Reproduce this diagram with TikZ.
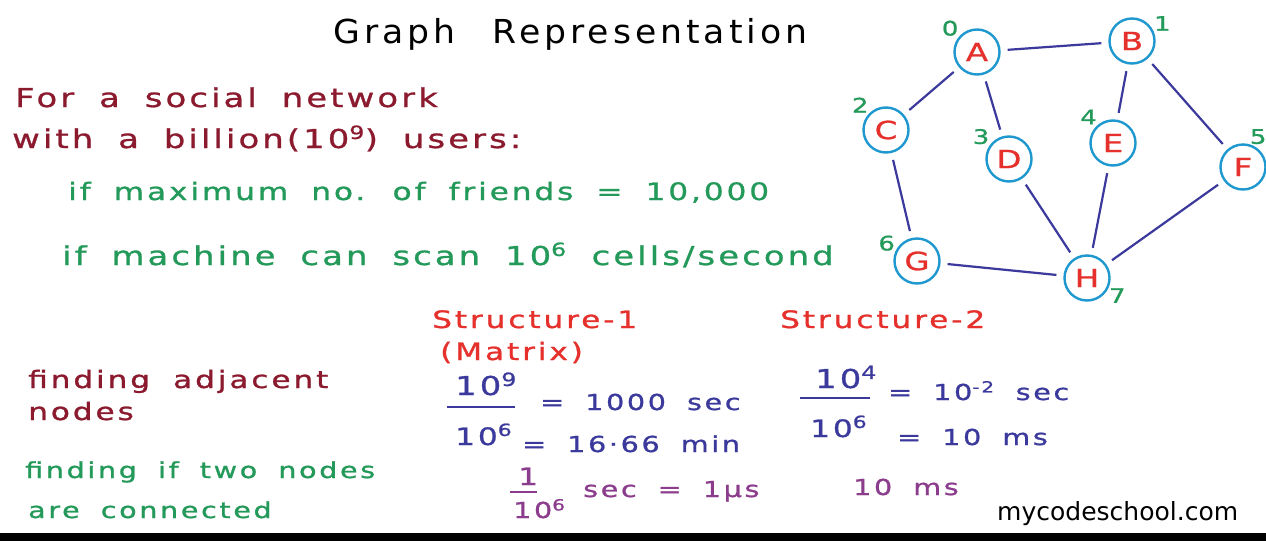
\documentclass[tikz,border=0pt]{standalone}
\usepackage{fontspec}
\setmainfont{Liberation Sans}
\newfontfamily\hand[FakeStretch=1.3, FakeBold=1, LetterSpace=12, WordSpace=1.8]{DejaVu Sans}
\newfontfamily\titlehand[FakeStretch=1.05, LetterSpace=12, WordSpace=2.5]{DejaVu Sans}
\newfontfamily\logofont{DejaVu Sans}
\definecolor{wine}{HTML}{8B1A2E}
\definecolor{leaf}{HTML}{23995A}
\definecolor{redink}{HTML}{E5302C}
\definecolor{blueink}{HTML}{3B3A9C}
\definecolor{ring}{HTML}{1E98CF}
\definecolor{plum}{HTML}{8C3C8C}
\tikzstyle{txt} = [anchor=base west, inner sep=0pt, font=\hand\fontsize{26}{26}\selectfont]
\tikzstyle{txtmid} = [anchor=base west, inner sep=0pt, font=\hand\fontsize{24}{24}\selectfont]
\tikzstyle{txtsmall} = [anchor=base west, inner sep=0pt, font=\hand\fontsize{22}{22}\selectfont]
\tikzstyle{vertex} = [circle, draw=ring, line width=2.4pt, minimum size=45pt, inner sep=0pt, text=redink, font=\hand\fontsize{25}{25}\selectfont]
\tikzstyle{idx} = [text=leaf, font=\hand\fontsize{20}{20}\selectfont, label distance=-4pt]
\tikzstyle{link} = [draw=blueink, line width=2.2pt, shorten >=7pt, shorten <=7pt]
\tikzstyle{bar} = [line width=2pt]

\begin{document}
\begin{tikzpicture}[x=1pt, y=-1pt]
	\fill[white] (0,0) rectangle (1266,541);
	\useasboundingbox (0,0) rectangle (1266,541);
	% title
	\node[txt, font=\titlehand\fontsize{33}{33}\selectfont] (title) at (333,43) {Graph Representation};
	% the problem
	\node[txt, text=wine] (social) at (15,107) {For a social network};
	\node[txt, text=wine] (users) at (12,148) {with a billion(10\textsuperscript{9}) users:};
	\node[txtmid, text=leaf] (friends) at (68,200) {if maximum no. of friends = 10,000};
	\node[txt, text=leaf] (scan) at (62,265) {if machine can scan 10\textsuperscript{6} cells/second};
	% the graph
	\node[vertex, label={[idx]140:0}] (A) at (977,52) {A};
	\node[vertex, label={[idx]20:1}] (B) at (1132,41) {B};
	\node[vertex, label={[idx]135:2}] (C) at (886,130) {C};
	\node[vertex, label={[idx]145:3}] (D) at (1009,159) {D};
	\node[vertex, label={[idx]130:4}] (E) at (1113,143) {E};
	\node[vertex, label={[idx]80:5}] (F) at (1243,167) {F};
	\node[vertex, label={[idx]160:6}] (G) at (917,261) {G};
	\node[vertex, label={[idx]-20:7}] (H) at (1087,278) {H};
	\draw[link] (A) -- (B);
	\draw[link] (A) -- (C);
	\draw[link] (A) -- (D);
	\draw[link] (B) -- (E);
	\draw[link] (B) -- (F);
	\draw[link] (C) -- (G);
	\draw[link] (D) -- (H);
	\draw[link] (E) -- (H);
	\draw[link] (F) -- (H);
	\draw[link] (G) -- (H);
	% structure 1
	\node[txtmid, text=redink] (s1) at (432,328) {Structure-1};
	\node[txtmid, text=redink] (matrix) at (440,360) {(Matrix)};
	\node[txt, text=blueink] (numA) at (455,395) {10\textsuperscript{9}};
	\coordinate (barAl) at (447,407);
	\coordinate (barAr) at (515,407);
	\draw[bar, blueink] (barAl) -- (barAr);
	\node[txtmid, text=blueink] (denA) at (455,445) {10\textsuperscript{6}};
	\node[txtsmall, text=blueink] (thousand) at (540,410) {= 1000 sec};
	\node[txtsmall, text=blueink] (minutes) at (522,452) {= 16·66 min};
	\node[txtmid, text=plum] (numC) at (518,485) {1};
	\coordinate (barCl) at (510,492);
	\coordinate (barCr) at (537,492);
	\draw[bar, plum] (barCl) -- (barCr);
	\node[txtsmall, text=plum] (denC) at (513,518) {10\textsuperscript{6}};
	\node[txtsmall, text=plum] (micro) at (583,497) {sec = 1μs};
	% structure 2
	\node[txtmid, text=redink] (s2) at (780,328) {Structure-2};
	\node[txt, text=blueink] (numB) at (815,388) {10\textsuperscript{4}};
	\coordinate (barBl) at (800,398);
	\coordinate (barBr) at (870,398);
	\draw[bar, blueink] (barBl) -- (barBr);
	\node[txtmid, text=blueink] (denB) at (810,437) {10\textsuperscript{6}};
	\node[txtsmall, text=blueink] (centi) at (888,400) {= 10\textsuperscript{-2} sec};
	\node[txtsmall, text=blueink] (milli) at (897,445) {= 10 ms};
	\node[txtsmall, text=plum] (milliB) at (853,495) {10 ms};
	% operations
	\node[txtmid, text=wine] (adj) at (28,388) {finding adjacent};
	\node[txtmid, text=wine] (adjb) at (28,420) {nodes};
	\node[txtsmall, text=leaf] (conn) at (25,478) {finding if two nodes};
	\node[txtsmall, text=leaf] (connb) at (28,518) {are connected};
	% logo and bottom bar
	\node[anchor=base west, inner sep=0pt, font=\logofont\fontsize{25}{25}\selectfont] (logo) at (997,520) {mycodeschool.com};
	\fill[black] (0,533) rectangle (1266,541);
\end{tikzpicture}
\end{document}
